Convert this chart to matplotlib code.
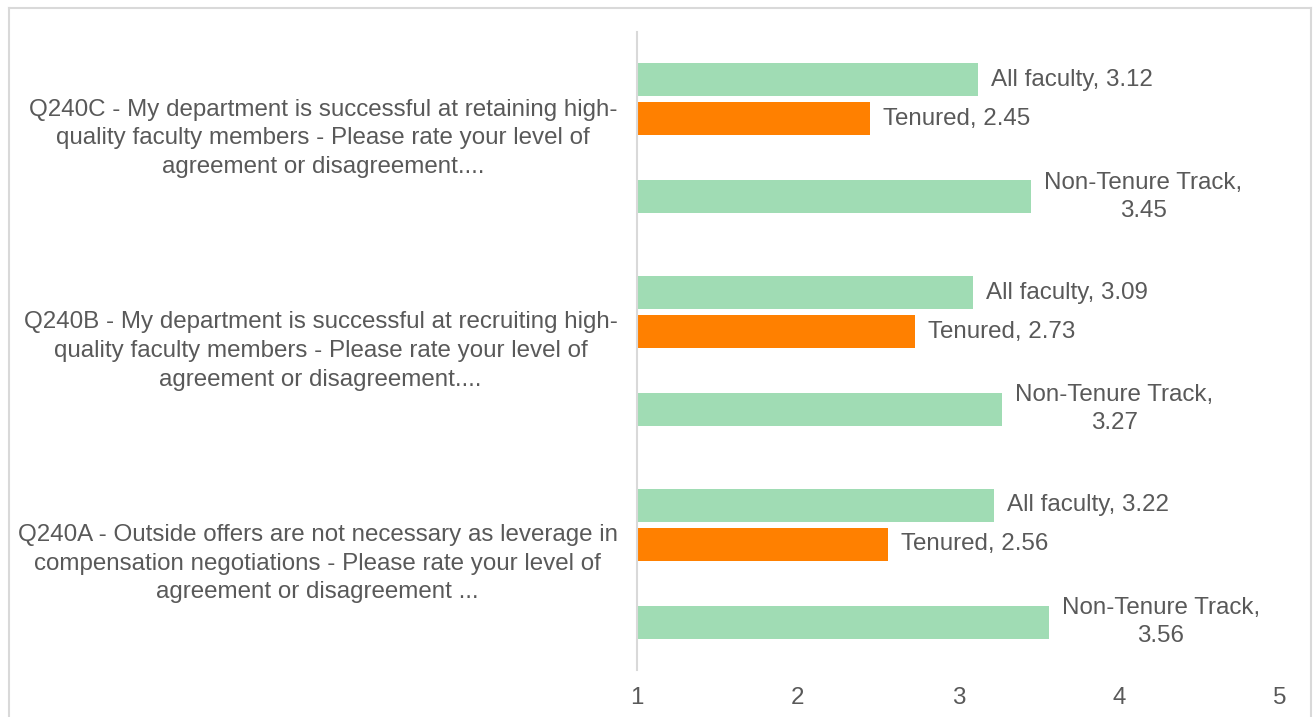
import numpy as np
import matplotlib
matplotlib.use("Agg")
import matplotlib.pyplot as plt

plt.rcParams['font.family'] = ['Liberation Sans', 'DejaVu Sans']

categories = [
    "Q240A - Outside offers are not necessary as leverage in\ncompensation negotiations - Please rate your level of\nagreement or disagreement ...",
    "Q240B - My department is successful at recruiting high-\nquality faculty members - Please rate your level of\nagreement or disagreement....",
    "Q240C - My department is successful at retaining high-\nquality faculty members - Please rate your level of\nagreement or disagreement....",
]
series_names = ["All faculty", "Tenured", "Tenure-Track", "Non-Tenure Track"]
all_faculty = [3.22, 3.09, 3.12]
tenured = [2.56, 2.73, 2.45]
tenure_track = [np.nan, np.nan, np.nan]
non_tenure_track = [3.56, 3.27, 3.45]
series_values = [all_faculty, tenured, tenure_track, non_tenure_track]
series_colors = ["#A0DCB4", "#FF8000", "#A0DCB4", "#A0DCB4"]
label_texts = ["All faculty, {:.2f}", "Tenured, {:.2f}", "Tenure-Track, {:.2f}", "Non-Tenure Track,\n{:.2f}"]
xticks = [1, 2, 3, 4, 5]

W, H, DPI = 1314, 717, 100
fig = plt.figure(figsize=(W / DPI, H / DPI), dpi=DPI)
ax = fig.add_axes([637 / W, 1 - 670 / H, (1280 - 637) / W, (670 - 32) / H])

# outer chart border (top, left, right)
border = "#D9D9D9"
fig.add_artist(plt.Line2D([8.5 / W, 1311 / W], [1 - 7.5 / H, 1 - 7.5 / H], color=border, lw=1.5, transform=fig.transFigure))
fig.add_artist(plt.Line2D([8.5 / W, 8.5 / W], [0, 1 - 7.5 / H], color=border, lw=1.5, transform=fig.transFigure))
fig.add_artist(plt.Line2D([1311 / W, 1311 / W], [0, 1 - 7.5 / H], color=border, lw=1.5, transform=fig.transFigure))

y = np.arange(len(categories))
slot = 0.183
bar_h = 0.155
offsets = [1.5 * slot, 0.5 * slot, -0.5 * slot, -1.5 * slot]
text_color = "#595959"
fs = 17.4

for vals, off, col, lab in zip(series_values, offsets, series_colors, label_texts):
    vals = np.array(vals, dtype=float)
    ax.barh(y + off, vals - 1, left=1, height=bar_h, color=col)
    for yi, v in zip(y, vals):
        if np.isnan(v):
            continue
        ax.annotate(lab.format(v), xy=(v, yi + off), xytext=(9.5, 0), textcoords="offset points",
                    ha="left", va="center", multialignment="center", fontsize=fs,
                    color=text_color, linespacing=1.35)

ax.set_xlim(1, 5)
ax.set_ylim(-0.5, 2.5)
ax.set_xticks(xticks)
ax.set_xticklabels([str(t) for t in xticks], fontsize=fs, color=text_color)
ax.set_yticks(y)
ax.set_yticklabels(categories, fontsize=fs, color=text_color, multialignment="center",
                   linespacing=1.4, va="center")
ax.tick_params(axis="both", length=0)
ax.tick_params(axis="x", pad=12)
ax.tick_params(axis="y", pad=14)
for s in ["top", "right", "bottom"]:
    ax.spines[s].set_visible(False)
ax.spines["left"].set_color(border)
ax.spines["left"].set_linewidth(1.5)
ax.set_facecolor("none")

fig.savefig("out.png", dpi=DPI, facecolor="white")
